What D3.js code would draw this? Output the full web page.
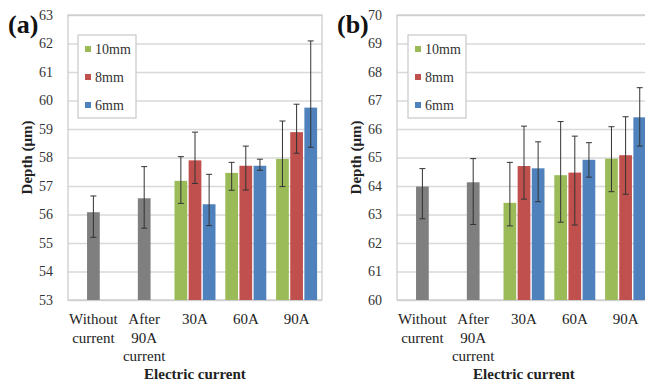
<!DOCTYPE html>
<html>
<head>
<meta charset="utf-8">
<script src="https://cdn.jsdelivr.net/npm/d3@7"></script>
<style>
  body { margin: 0; background: #fff; }
  svg, svg text { font-family: "Liberation Serif", Tinos, "Times New Roman", Times, "DejaVu Serif", serif !important; }
</style>
</head>
<body>
<svg id="chart" width="645" height="385"></svg>
<script>
// categories and series
const categories = ["Without current", "After 90A current", "30A", "60A", "90A"];
const tickLines = [["Without", "current"], ["After", "90A", "current"], ["30A"], ["60A"], ["90A"]];
const series = ["10mm", "8mm", "6mm"];
const currents = ["30A", "60A", "90A"];

// panel (a) values, y domain 53..63
const aGray = [56.08, 56.57], aGrayLo = [55.2, 55.52], aGrayHi = [56.65, 57.68];
const a10 = [57.18, 57.46, 57.95], a10Lo = [56.39, 56.85, 56.98], a10Hi = [58.03, 57.83, 59.28];
const a8 = [57.9, 57.71, 58.89], a8Lo = [57.09, 56.86, 58.15], a8Hi = [58.89, 58.40, 59.87];
const a6 = [56.36, 57.71, 59.75], a6Lo = [55.61, 57.55, 58.36], a6Hi = [57.41, 57.94, 62.09];

// panel (b) values, y domain 60..70
const bGray = [63.98, 64.13], bGrayLo = [62.85, 62.65], bGrayHi = [64.61, 64.96];
const b10 = [63.41, 64.38, 64.96], b10Lo = [62.6, 62.73, 63.8], b10Hi = [64.83, 66.26, 66.08];
const b8 = [64.70, 64.47, 65.08], b8Lo = [63.54, 62.63, 63.71], b8Hi = [66.10, 65.75, 66.43];
const b6 = [64.62, 64.92, 66.41], b6Lo = [63.45, 64.31, 65.40], b6Hi = [65.55, 65.52, 67.45];

const colors = { "10mm": "#9bbb59", "8mm": "#c0504d", "6mm": "#4f81bd", gray: "#7f7f7f" };

const svg = d3.select('#chart');

function panel(opts) {
    const left = opts.left, top = 15, width = 254, height = 285;

    const y = d3.scaleLinear().domain(opts.domain).range([top + height, top]);
    const x0 = d3.scaleBand().domain(categories).range([left, left + width]);
    const x1 = d3.scaleBand().domain(series).range([-20.5, 20.5]).paddingInner(0.1);
    const bw = x1.bandwidth();

    const g = svg.append('g');

    // gridlines
    g.append('g')
        .attr('transform', 'translate(' + left + ',0)')
        .call(d3.axisLeft(y).ticks(10).tickSize(-width).tickFormat(''))
        .call(s => s.select('.domain').remove())
        .selectAll('line').attr('stroke', '#d9d9d9').attr('stroke-width', 1.3);

    // plot border
    g.append('rect')
        .attr('x', left).attr('y', top)
        .attr('width', width).attr('height', height)
        .attr('fill', 'none').attr('stroke', '#c8c8c8').attr('stroke-width', 1.2);

    // y tick labels
    g.append('g')
        .attr('transform', 'translate(' + (left - 15) + ',0)')
        .call(d3.axisLeft(y).ticks(10).tickSize(0).tickPadding(0).tickFormat(d3.format('d')))
        .call(s => s.select('.domain').remove())
        .selectAll('text')
        .attr('font-size', 14).attr('fill', '#333');

    // bars
    const rows = [];
    opts.gray.forEach((v, i) => rows.push({
        x: x0(categories[i]) + x0.bandwidth() / 2 - bw / 2, v: v,
        lo: opts.grayLo[i], hi: opts.grayHi[i], c: colors.gray
    }));
    series.forEach((s, si) => {
        opts.vals[si].forEach((v, i) => rows.push({
            x: x0(currents[i]) + x0.bandwidth() / 2 + x1(s), v: v,
            lo: opts.lo[si][i], hi: opts.hi[si][i], c: colors[s]
        }));
    });

    g.selectAll('rect.bar').data(rows).join('rect')
        .attr('class', 'bar')
        .attr('x', d => d.x).attr('width', bw)
        .attr('y', d => y(d.v)).attr('height', d => y(opts.domain[0]) - y(d.v))
        .attr('fill', d => d.c);

    // error bars
    const eb = g.selectAll('g.err').data(rows).join('g').attr('class', 'err')
        .attr('stroke', '#333').attr('stroke-width', 1);
    eb.append('line')
        .attr('x1', d => d.x + bw / 2).attr('x2', d => d.x + bw / 2)
        .attr('y1', d => y(d.lo)).attr('y2', d => y(d.hi));
    eb.append('line')
        .attr('x1', d => d.x + bw / 2 - 3).attr('x2', d => d.x + bw / 2 + 3)
        .attr('y1', d => y(d.hi)).attr('y2', d => y(d.hi));
    eb.append('line')
        .attr('x1', d => d.x + bw / 2 - 3).attr('x2', d => d.x + bw / 2 + 3)
        .attr('y1', d => y(d.lo)).attr('y2', d => y(d.lo));

    // x tick labels
    categories.forEach((c, i) => {
        const t = g.append('text')
            .attr('x', x0(c) + x0.bandwidth() / 2).attr('y', 324)
            .attr('text-anchor', 'middle').attr('font-size', 15).attr('fill', '#222');
        tickLines[i].forEach((ln, k) => {
            t.append('tspan').attr('x', x0(c) + x0.bandwidth() / 2)
                .attr('dy', k === 0 ? 0 : 18.5).text(ln);
        });
    });

    // axis titles
    g.append('text')
        .attr('x', left + width / 2).attr('y', 379)
        .attr('text-anchor', 'middle').attr('font-size', 15).attr('font-weight', 'bold')
        .attr('fill', '#222').text('Electric current');
    g.append('text')
        .attr('transform', 'translate(' + (left - 36) + ',' + (top + height / 2) + ') rotate(-90)')
        .attr('text-anchor', 'middle').attr('font-size', 15).attr('font-weight', 'bold')
        .attr('fill', '#222').text('Depth (μm)');

    // panel label
    g.append('text')
        .attr('x', left - 60).attr('y', 33)
        .attr('font-size', 26).attr('font-weight', 'bold').attr('fill', '#111')
        .text(opts.label);

    // legend
    const lx = left + opts.legendDx, ly = 35;
    g.append('rect')
        .attr('x', lx).attr('y', ly).attr('width', 58).attr('height', 83)
        .attr('fill', '#fff').attr('stroke', '#c8c8c8').attr('stroke-width', 1.2);
    series.forEach((s, i) => {
        const cy = 49 + i * 28;
        g.append('rect')
            .attr('x', lx + 7).attr('y', cy - 3).attr('width', 6).attr('height', 6)
            .attr('fill', colors[s]);
        g.append('text')
            .attr('x', lx + 17).attr('y', cy + 5)
            .attr('font-size', 14).attr('fill', '#333').text(s);
    });
}

panel({
    left: 68, domain: [53, 63], label: '(a)', legendDx: 10,
    gray: aGray, grayLo: aGrayLo, grayHi: aGrayHi,
    vals: [a10, a8, a6], lo: [a10Lo, a8Lo, a6Lo], hi: [a10Hi, a8Hi, a6Hi]
});

panel({
    left: 397, domain: [60, 70], label: '(b)', legendDx: 11,
    gray: bGray, grayLo: bGrayLo, grayHi: bGrayHi,
    vals: [b10, b8, b6], lo: [b10Lo, b8Lo, b6Lo], hi: [b10Hi, b8Hi, b6Hi]
});
</script>
</body>
</html>
